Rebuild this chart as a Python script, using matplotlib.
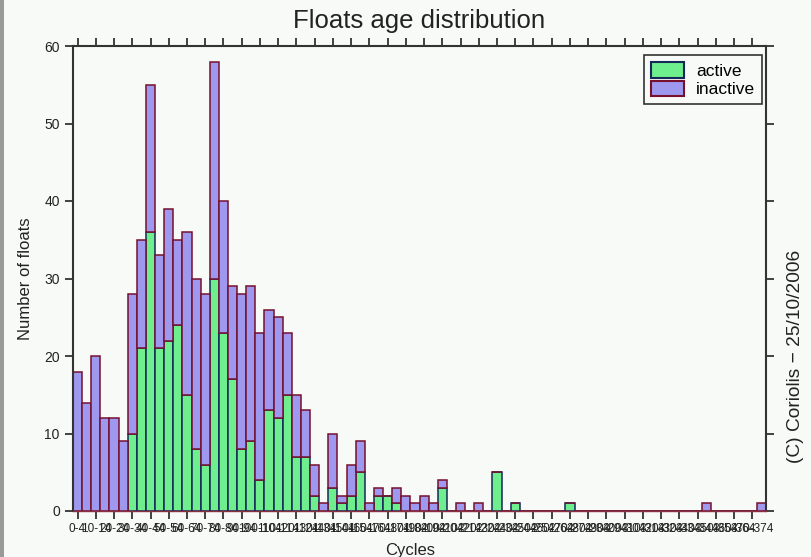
import matplotlib
matplotlib.use("Agg")
import matplotlib.pyplot as plt
from matplotlib.patches import Patch, Rectangle
import numpy as np

plt.rcParams['font.family'] = ['Liberation Sans', 'DejaVu Sans']

# bins of 5 cycles: 0-4, 5-9, ..., 375-379
bin_starts = list(range(0, 380, 5))
active = [0, 0, 0, 0, 0, 0, 10, 21, 36, 21,
          22, 24, 15, 8, 6, 30, 23, 17, 8, 9,
          4, 13, 12, 15, 7, 7, 2, 0, 3, 1,
          2, 5, 0, 2, 2, 1, 0, 0, 0, 0,
          3, 0, 0, 0, 0, 0, 5, 0, 1, 0,
          0, 0, 0, 0, 1, 0, 0, 0, 0, 0,
          0, 0, 0, 0, 0, 0, 0, 0, 0, 0,
          0, 0, 0, 0, 0, 0]
total = [18, 14, 20, 12, 12, 9, 28, 35, 55, 33,
         39, 35, 36, 30, 28, 58, 40, 29, 28, 29,
         23, 26, 25, 23, 15, 13, 6, 1, 10, 2,
         6, 9, 1, 3, 2, 3, 2, 1, 2, 1,
         4, 0, 1, 0, 1, 0, 5, 0, 1, 0,
         0, 0, 0, 0, 1, 0, 0, 0, 0, 0,
         0, 0, 0, 0, 0, 0, 0, 0, 0, 1,
         0, 0, 0, 0, 0, 1]
inactive = [t - a for t, a in zip(total, active)]
tick_labels = [f"{s}-{s+4}" for s in bin_starts[::2]]

bg = '#F8FAF7'
fig = plt.figure(figsize=(8.11, 5.57), dpi=100, facecolor=bg)
ax = fig.add_axes([73/811, 1-511/557, (766-73)/811, (511-46)/557], facecolor=bg)

x = np.arange(len(bin_starts))
green = '#6EEE8C'
purple = '#9E98EE'
ax.bar(x, active, width=1.0, color=green, edgecolor='#14285A', linewidth=1.1, zorder=2)
ax.bar(x, inactive, bottom=active, width=1.0, color=purple, edgecolor='#76102E', linewidth=1.1, zorder=2)

ax.set_xlim(-0.5, len(bin_starts) - 0.5)
ax.set_ylim(0, 60)
ax.set_yticks(range(0, 61, 10))
ax.set_xticks(x[::2])
ax.set_xticklabels(tick_labels, fontsize=8.5)
ax.tick_params(axis='y', labelsize=10, direction='out', length=6, width=1.2,
               right=True, colors='#222222')
ax.tick_params(axis='x', direction='out', length=6, width=1.2, top=True,
               colors='#222222', pad=3)
for s in ax.spines.values():
    s.set_color('#333333')
    s.set_linewidth(1.5)
ax.spines['bottom'].set_color('#8a3040')
ax.spines['bottom'].set_linewidth(1.0)

fig.text(419/811, 1 - 21/557, 'Floats age distribution', ha='center', va='center',
         fontsize=18.5, color='#222222')
ax.set_ylabel('Number of floats', fontsize=12, labelpad=8, color='#222222')
fig.text(410/811, 1 - 551/557, 'Cycles', ha='center', va='center', fontsize=12, color='#222222')
fig.text(796/811, 1 - 356/557, '(C) Coriolis \u2212 25/10/2006', rotation=90, ha='center',
         va='center', fontsize=13.8, color='#222222')

handles = [Patch(facecolor=green, edgecolor='#14285A', linewidth=1.5, label='active'),
           Patch(facecolor=purple, edgecolor='#76102E', linewidth=1.5, label='inactive')]
leg = ax.legend(handles=handles, loc='upper right', bbox_to_anchor=(0.994, 0.98),
                fontsize=12.5, frameon=True, fancybox=False, framealpha=1,
                edgecolor='#333333', handlelength=1.9, handleheight=1.0,
                borderpad=0.4, labelspacing=0.1, handletextpad=0.7, borderaxespad=0)
leg.get_frame().set_linewidth(1.2)
leg.get_frame().set_facecolor(bg)

# screenshot edge strip at the left
fig.patches.append(Rectangle((0, 0), 4/811, 1, transform=fig.transFigure,
                             facecolor='#9a9a9a', edgecolor='none'))

fig.savefig('out.png', dpi=100, facecolor=bg)
